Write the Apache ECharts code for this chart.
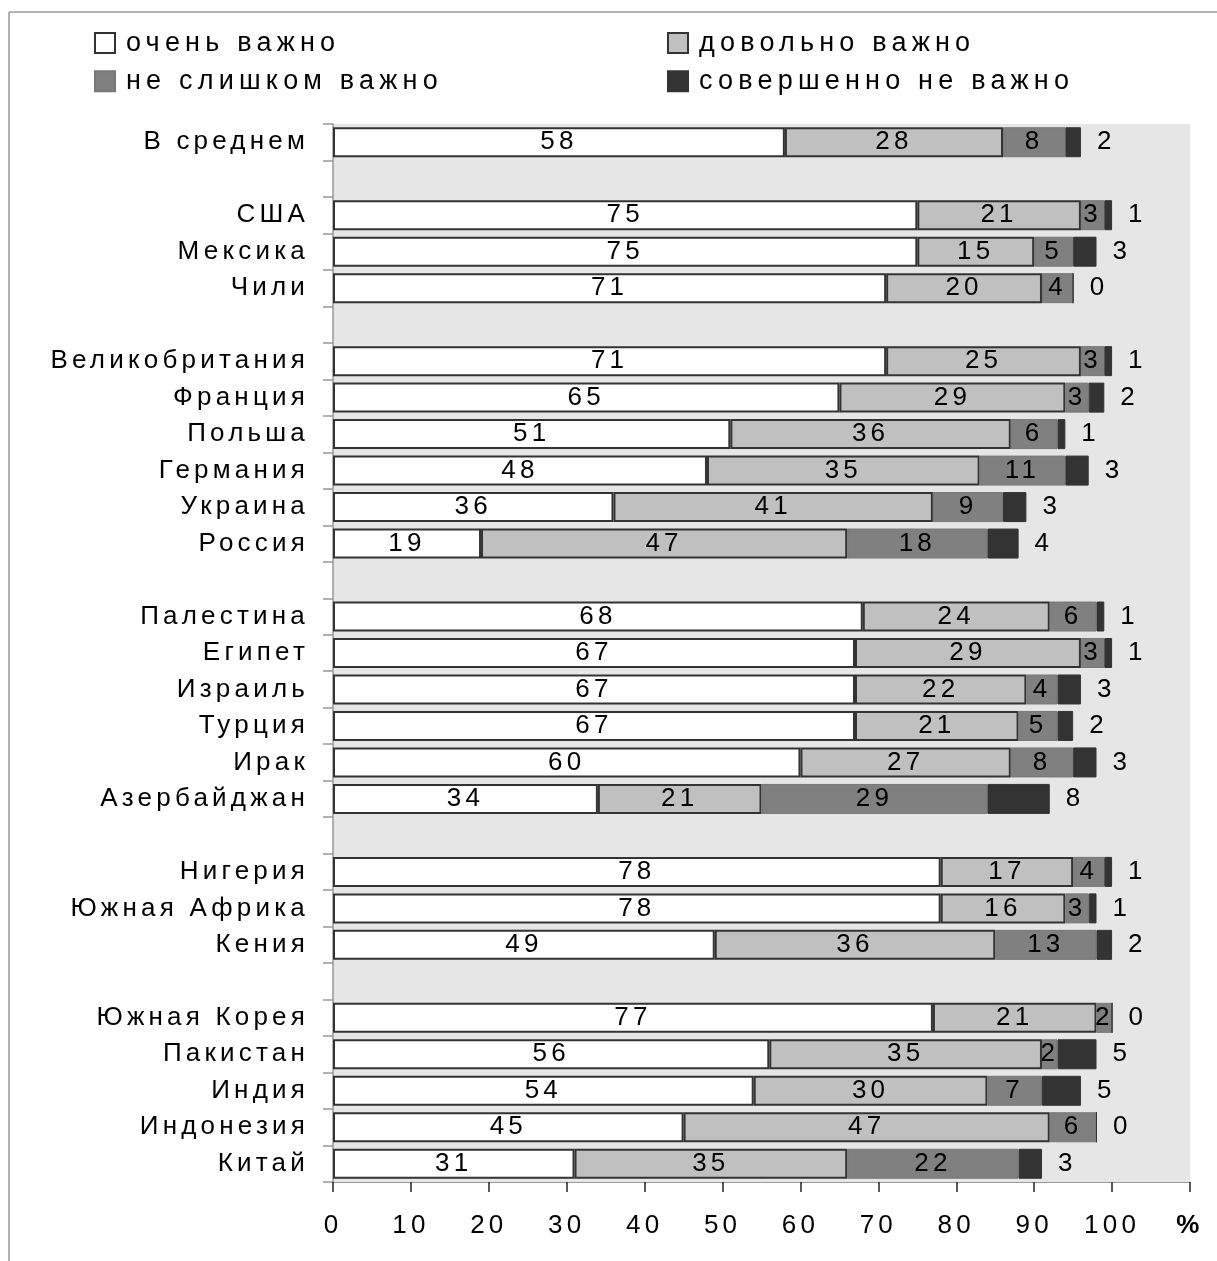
<!DOCTYPE html>
<html>
<head>
<meta charset="utf-8">
<script src="https://cdn.jsdelivr.net/npm/echarts@6/dist/echarts.min.js"></script>
<style>
html,body{margin:0;padding:0;background:#fff;}
#chart{width:1217px;height:1261px;}
</style>
</head>
<body>
<div id="chart"></div>
<script>
// ---- data ----
var categories = ['В среднем', ' ', 'США', 'Мексика', 'Чили', '  ', 'Великобритания', 'Франция', 'Польша', 'Германия', 'Украина', 'Россия', '   ', 'Палестина', 'Египет', 'Израиль', 'Турция', 'Ирак', 'Азербайджан', '    ', 'Нигерия', 'Южная Африка', 'Кения', '     ', 'Южная Корея', 'Пакистан', 'Индия', 'Индонезия', 'Китай'];
var seriesNames = ['очень важно', 'довольно важно', 'не слишком важно', 'совершенно не важно'];
var veryImportant   = [58, null, 75, 75, 71, null, 71, 65, 51, 48, 36, 19, null, 68, 67, 67, 67, 60, 34, null, 78, 78, 49, null, 77, 56, 54, 45, 31];
var ratherImportant = [28, null, 21, 15, 20, null, 25, 29, 36, 35, 41, 47, null, 24, 29, 22, 21, 27, 21, null, 17, 16, 36, null, 21, 35, 30, 47, 35];
var notVery         = [8, null, 3, 5, 4, null, 3, 3, 6, 11, 9, 18, null, 6, 3, 4, 5, 8, 29, null, 4, 3, 13, null, 2, 2, 7, 6, 22];
var notAtAll        = [2, null, 1, 3, 0, null, 1, 2, 1, 3, 3, 4, null, 1, 1, 3, 2, 3, 8, null, 1, 1, 2, null, 0, 5, 5, 0, 3];
var xTickLabels = ['0', '10', '20', '30', '40', '50', '60', '70', '80', '90', '100', '%'];

// ---- wide letter tracking as in the original (canvas letterSpacing) ----
(function () {
  var P = CanvasRenderingContext2D.prototype;
  if (!('letterSpacing' in P)) return;
  function ls(ctx) {
    var m = /(\d+(?:\.\d+)?)px/.exec(ctx.font || '');
    var size = m ? parseFloat(m[1]) : 12;
    ctx.letterSpacing = (size >= 27 ? 5.2 : 4.2) + 'px';
  }
  var f = P.fillText, s = P.strokeText, me = P.measureText;
  P.fillText = function () { ls(this); return f.apply(this, arguments); };
  P.strokeText = function () { ls(this); return s.apply(this, arguments); };
  P.measureText = function () { ls(this); return me.apply(this, arguments); };
})();

var FONT = "'Liberation Sans', Arial, sans-serif";
var chart = echarts.init(document.getElementById('chart'), null, {renderer: 'canvas'});

var colors = ['#ffffff', '#c0c0c0', '#808080', '#333333'];
var borders = ['#333333', '#333333', '#777777', '#333333'];
var borderW = [2, 2, 1, 1];
var values = [veryImportant, ratherImportant, notVery, notAtAll];

var series = values.map(function (vals, i) {
  return {
    name: seriesNames[i],
    type: 'bar',
    stack: 'total',
    data: vals,
    barWidth: 30,
    itemStyle: {color: colors[i], borderColor: borders[i], borderWidth: borderW[i]},
    label: {
      show: true,
      position: i === 3 ? 'right' : 'inside',
      distance: 16,
      color: '#000',
      fontSize: 26,
      fontFamily: FONT,
      formatter: function (p) { return p.value == null ? '' : String(p.value); }
    },
    emphasis: {disabled: true},
    animation: false
  };
});

var legendText = {color: '#000', fontSize: 27, fontFamily: FONT, lineHeight: 30, padding: [0, 0, 0, 6]};
var option = {
  backgroundColor: '#ffffff',
  animation: false,
  legend: [
    {data: [seriesNames[0], seriesNames[2]], orient: 'vertical', left: 94, top: 27, padding: 0,
     itemWidth: 20, itemHeight: 20, itemGap: 6, icon: 'rect', textStyle: legendText, selectedMode: false},
    {data: [seriesNames[1], seriesNames[3]], orient: 'vertical', left: 667, top: 27, padding: 0,
     itemWidth: 20, itemHeight: 20, itemGap: 6, icon: 'rect', textStyle: legendText, selectedMode: false}
  ],
  grid: {left: 333, right: 27, top: 124, bottom: 79, show: true, backgroundColor: '#e6e6e6', borderWidth: 0},
  xAxis: {
    type: 'value', min: 0, max: 110, interval: 10,
    axisLine: {show: true, lineStyle: {color: '#999', width: 1}},
    axisTick: {show: true, length: 10, lineStyle: {color: '#222', width: 1.5}},
    splitLine: {show: false},
    axisLabel: {
      margin: 29, color: '#000', fontSize: 26, fontFamily: FONT, showMaxLabel: true, showMinLabel: true,
      formatter: function (v) {
        var t = xTickLabels[Math.round(v / 10)];
        return t === '%' ? '{b|' + t + '}' : t;
      },
      rich: {b: {fontWeight: 'bold', fontSize: 26, fontFamily: FONT, color: '#000'}}
    }
  },
  yAxis: {
    type: 'category', inverse: true, data: categories,
    axisLine: {show: true, lineStyle: {color: '#999', width: 1.5}},
    axisTick: {show: true, length: 10, lineStyle: {color: '#999', width: 1.5}},
    axisLabel: {margin: 24, color: '#000', fontSize: 26, fontFamily: FONT, interval: 0}
  },
  graphic: [
    {type: 'line', shape: {x1: 9, y1: 12, x2: 1217, y2: 12}, style: {stroke: '#999', lineWidth: 1.5}, silent: true},
    {type: 'line', shape: {x1: 9, y1: 12, x2: 9, y2: 1261}, style: {stroke: '#999', lineWidth: 1.5}, silent: true}
  ],
  series: series
};
chart.setOption(option);
</script>
</body>
</html>
